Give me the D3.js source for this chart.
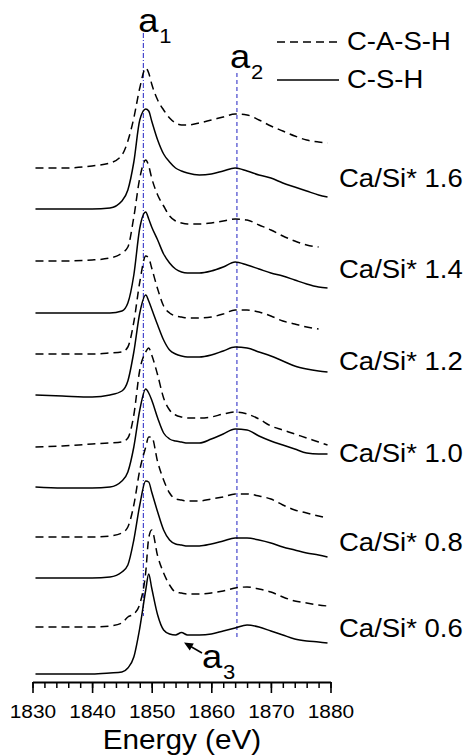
<!DOCTYPE html>
<html><head><meta charset="utf-8">
<script src="https://cdn.jsdelivr.net/npm/d3@7/dist/d3.min.js"></script>
<style>html,body{margin:0;padding:0;background:#fff;} svg{display:block;font-family:"Liberation Sans",Arial,sans-serif;}</style>
</head><body><svg id="c" width="466" height="755"></svg>
<script>
// ---- data (energy in eV, intensity in offset arbitrary units) ----
const energies = [1830.5,1835,1840,1843,1845,1846,1847,1848,1849,1849.5,1850,1851,1852,1853,1854,1855,1856,1858,1860,1862,1864,1866,1868,1870,1872,1874,1876,1878,1879.5];
const cash16 = [51.4,51.4,51.6,51.9,52.7,54.1,56.4,59.4,61.4,60.9,59.8,58.2,57.2,56.4,55.9,55.7,55.7,55.9,56.2,56.5,56.8,56.7,56.2,55.6,55.1,54.6,54.2,54.0,53.9];
const csh16  = [47.3,47.3,47.3,47.4,48.1,49.2,52.0,56.2,57.3,57.1,56.1,54.2,52.8,52.0,51.4,51.1,50.9,50.7,50.8,51.1,51.4,51.1,50.7,50.4,49.9,49.5,49.1,48.7,48.5];
const cash14 = [42.1,42.1,42.2,42.4,42.9,43.5,46.5,50.4,52.2,51.6,50.4,48.7,47.6,46.6,46.1,45.9,45.8,45.8,45.9,46.1,46.3,46.2,45.7,45.2,44.6,44.1,43.7,43.5,null];
const csh14  = [36.9,36.9,36.9,36.9,37.1,37.9,40.7,45.4,47.0,46.3,45.5,44.2,42.8,41.9,41.3,41.0,40.9,40.9,41.1,41.5,42.0,41.7,41.3,40.9,40.6,40.2,39.8,39.5,39.4];
const cash12 = [32.8,32.8,32.8,32.9,33.0,33.5,36.0,40.0,42.6,42.4,41.4,39.3,37.6,36.9,36.6,36.5,36.4,36.4,36.5,36.8,37.2,37.2,37.0,36.6,36.1,35.8,35.5,35.3,null];
const csh12  = [28.7,28.6,28.5,28.7,29.1,30.1,33.0,36.9,38.7,38.1,37.3,35.7,34.2,33.2,32.8,32.6,32.5,32.5,32.7,33.1,33.5,33.4,33.0,32.6,32.1,31.6,31.3,31.1,31.0];
const cash10 = [23.5,23.6,23.8,23.9,24.0,24.4,26.7,31.2,33.0,33.4,32.7,30.7,28.4,27.2,26.7,26.5,26.4,26.4,26.5,26.8,27.0,26.8,26.3,25.6,25.2,24.8,24.4,24.0,23.7];
const csh10  = [19.5,19.4,19.4,19.5,20.1,21.0,23.5,27.2,29.3,28.9,28.2,26.4,24.9,24.3,24.1,24.0,23.9,23.9,24.3,24.8,25.3,25.2,24.6,24.1,23.7,23.3,22.9,22.8,22.8];
const cash08 = [14.5,14.5,14.5,14.6,14.9,15.5,17.7,21.2,23.5,24.5,24.5,22.0,20.2,18.9,18.3,18.2,18.1,18.1,18.3,18.5,18.8,18.8,18.6,18.3,17.7,17.2,16.9,16.6,16.4];
const csh08  = [10.4,10.4,10.4,10.5,11.0,11.7,14.2,17.7,20.1,20.0,19.0,17.0,15.2,14.2,13.8,13.7,13.6,13.6,13.8,14.1,14.4,14.4,14.2,13.9,13.5,13.2,12.9,12.7,12.5];
const cash06 = [5.5,5.5,5.5,5.6,5.9,6.5,6.8,7.8,11.0,14.4,15.2,12.6,10.9,9.7,9.0,8.9,8.8,8.8,8.9,9.1,9.4,9.5,9.3,9.0,8.5,8.1,7.9,7.7,7.6];
const csh06  = [0.8,0.8,0.8,0.9,1.0,1.4,2.5,5.4,9.2,10.8,9.4,6.7,5.2,4.8,4.7,4.95,4.7,4.7,4.8,5.1,5.4,5.7,5.5,5.1,4.7,4.3,4.1,4.0,3.9];
const ratioLabels = ["Ca/Si* 1.6","Ca/Si* 1.4","Ca/Si* 1.2","Ca/Si* 1.0","Ca/Si* 0.8","Ca/Si* 0.6"];
const legendLabels = ["C-A-S-H","C-S-H"];
const xMajorTicks = [1830,1840,1850,1860,1870,1880];
const markEnergies = [1848.6, 1864.3];      // a1, a2 reference lines
const markTop = [64.9, 60.9];
const markBottom = [6.6, 4.4];
const a3Energy = 1855;
const axisTitle = "Energy (eV)";

// ---- layout ----
const svg = d3.select("#c");
svg.append("rect").attr("width",466).attr("height",755).attr("fill","#fff");
const x = d3.scaleLinear().domain([1830,1880]).range([32.5,330.5]);
const y = d3.scaleLinear().domain([0,65]).range([682,32]);
const SX = 1.1;

function txt(str, px, py, size, anchor){
  return svg.append("text").attr("transform",`translate(${px},${py}) scale(${SX},1)`)
    .attr("font-size",size).attr("text-anchor",anchor||"start").attr("fill","#000").text(str);
}

// reference lines
const refColor = "#3535c8";
markEnergies.forEach((e,i)=>{
  svg.append("line").attr("x1",x(e)).attr("x2",x(e)).attr("y1",y(markTop[i])).attr("y2",y(markBottom[i]))
    .attr("stroke",refColor).attr("stroke-width",1.1)
    .attr("stroke-dasharray", i===0 ? "5,2,1,2" : "4,3");
});

// spectra
const series = [
  [cash16,true],[csh16,false],[cash14,true],[csh14,false],[cash12,true],[csh12,false],
  [cash10,true],[csh10,false],[cash08,true],[csh08,false],[cash06,true],[csh06,false]
];
const line = d3.line().defined(d=>d[1]!=null).x(d=>x(d[0])).y(d=>y(d[1])).curve(d3.curveMonotoneX);
series.forEach(([vals,dashed])=>{
  svg.append("path").attr("d", line(energies.map((e,i)=>[e,vals[i]])))
    .attr("fill","none").attr("stroke","#000").attr("stroke-width",1.5)
    .attr("stroke-linejoin","round")
    .attr("stroke-dasharray", dashed ? "8,5" : null);
});

// axis
const gMinor = svg.append("g").attr("transform","translate(0,682)")
  .call(d3.axisBottom(x).tickValues(d3.range(1830,1881,2)).tickSize(6).tickSizeOuter(0).tickFormat(""));
gMinor.select(".domain").attr("stroke","#000").attr("stroke-width",2);
gMinor.selectAll(".tick line").attr("stroke","#000").attr("stroke-width",1.5);
const gMajor = svg.append("g").attr("transform","translate(0,682)")
  .call(d3.axisBottom(x).tickValues(xMajorTicks).tickSize(11).tickSizeOuter(0).tickFormat(d3.format("d")));
gMajor.select(".domain").remove();
gMajor.selectAll(".tick line").attr("stroke","#000").attr("stroke-width",1.6);
gMajor.selectAll(".tick text").attr("font-size",19).attr("font-family",'"Liberation Sans",Arial,sans-serif')
  .attr("fill","#000").attr("y",36).attr("dy",null).attr("transform",`scale(${SX},1)`);

txt(axisTitle, 182, 749, 27, "middle");

// ratio labels
const labelBase = [187,278,370,462,551,637];
ratioLabels.forEach((t,i)=> txt(t, 339, labelBase[i], 25));

// legend
[[42,"8,5"],[80,null]].forEach(([ly,da],i)=>{
  svg.append("line").attr("x1",277).attr("x2",339).attr("y1",ly).attr("y2",ly)
    .attr("stroke","#000").attr("stroke-width",1.5).attr("stroke-dasharray",da);
  txt(legendLabels[i], 347, ly+8, 25);
});

// peak labels
function peakLabel(sub, px, py){
  txt("a", px, py, 33);
  txt(sub, px+21, py+11, 20);
}
peakLabel("1", x(markEnergies[0])-5, 32);
peakLabel("2", x(markEnergies[1])-7, 68);
peakLabel("3", 202, 668);

// a3 arrow
const ax = x(a3Energy)+2.5, ay = y(csh06[energies.indexOf(a3Energy)])+10;
svg.append("line").attr("x1",202).attr("y1",653).attr("x2",ax+5).attr("y2",ay+3)
  .attr("stroke","#000").attr("stroke-width",1.5);
const ang = Math.atan2(653-ay, 202-ax);
const hl = 9, hw = 4;
const p1 = [ax + hl*Math.cos(ang) - hw*Math.sin(ang), ay + hl*Math.sin(ang) + hw*Math.cos(ang)];
const p2 = [ax + hl*Math.cos(ang) + hw*Math.sin(ang), ay + hl*Math.sin(ang) - hw*Math.cos(ang)];
svg.append("path").attr("d",`M${ax},${ay}L${p1[0]},${p1[1]}L${p2[0]},${p2[1]}Z`).attr("fill","#000");
</script>
</body></html>
